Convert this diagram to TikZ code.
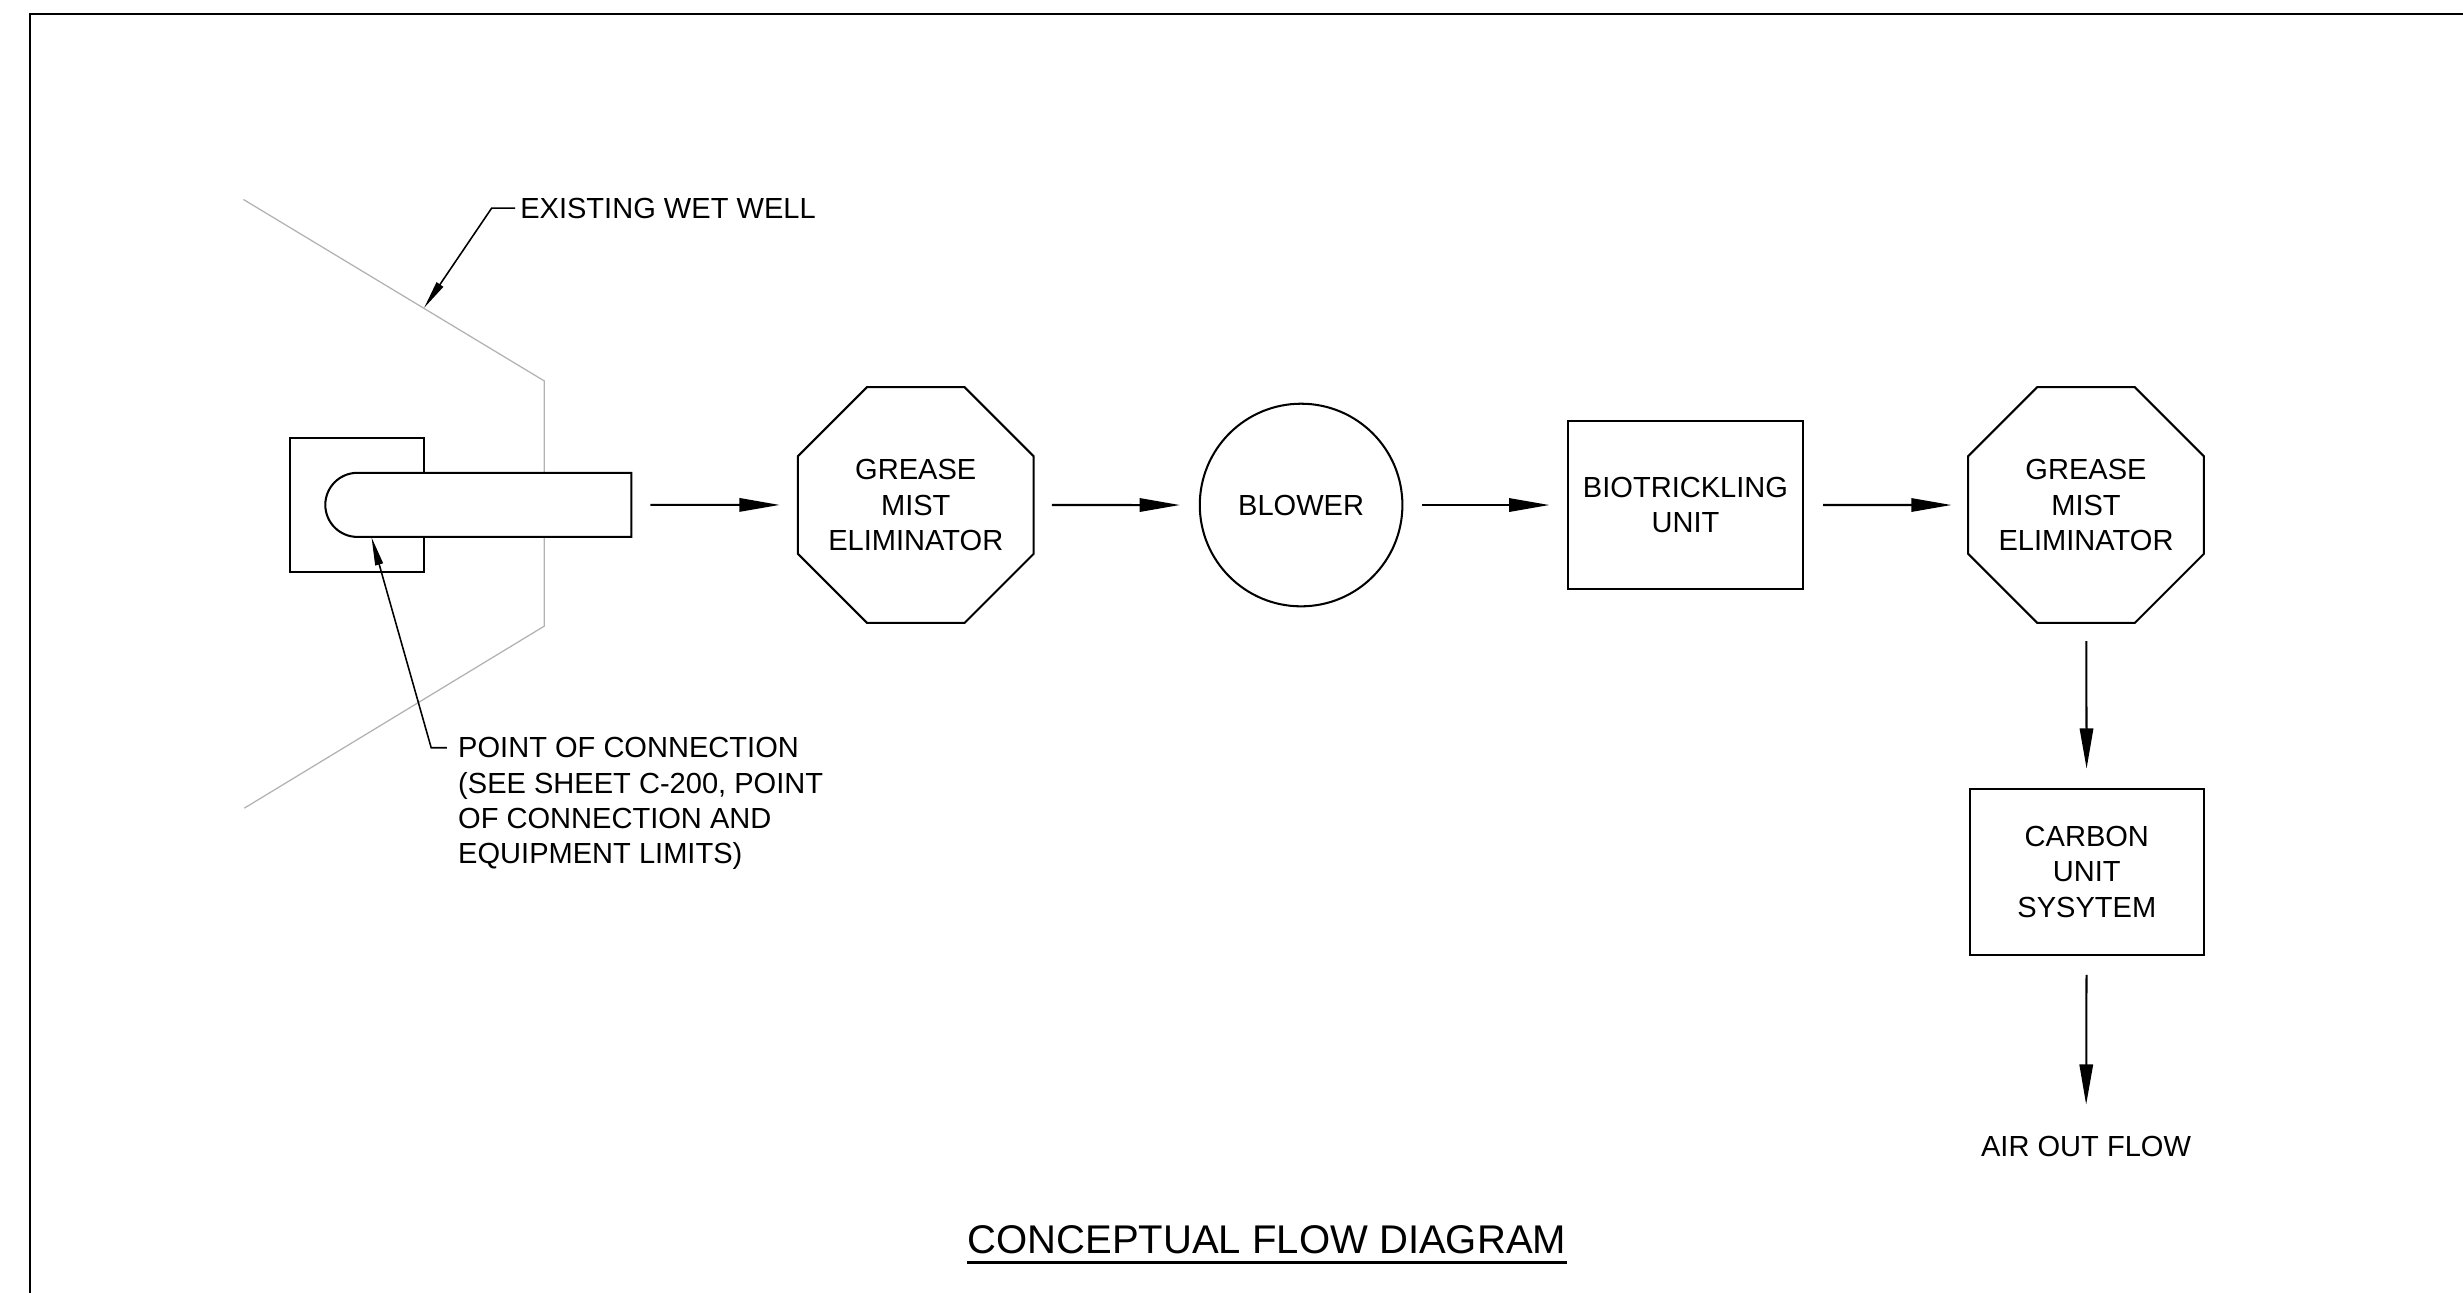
\documentclass[tikz,border=0pt]{standalone}
\usepackage{fontspec}
\setmainfont{Liberation Sans}
\usetikzlibrary{shapes.geometric,arrows.meta}
\begin{document}
\begin{tikzpicture}[x=1pt,y=-1pt,
    every node/.style={inner sep=0pt,font=\fontsize{18.5}{22.5}\selectfont},
    unit/.style={draw,line width=1.3pt,align=center},
    octa/.style={unit,regular polygon,regular polygon sides=8,inner sep=-20pt,minimum size=162.4pt},
    flow/.style={-{Triangle[length=25.6pt,width=8.5pt]},line width=1.3pt},
    leader/.style={-{Triangle[length=18pt,width=5pt]},line width=1pt},
    wall/.style={gray!60,line width=0.8pt}]
    \useasboundingbox (0,0) rectangle (1568,823);
    \draw[line width=1.3pt] (1568,9) -- (19,9) -- (19,823);

    \draw[wall] (155,127) -- (346.5,242.5) -- (346.5,398.6) -- (155.5,514.5);
    \draw[line width=1.3pt] (184.5,279) rectangle (270,364.3);
    \draw[line width=1.3pt,fill=white] (402,301) -- (227.5,301) arc[start angle=270,end angle=90,radius=20.4] -- (402,341.8) -- cycle;
    \coordinate (pipeend) at (402,321.4);
    \coordinate (wwtip) at (270,196);
    \coordinate (poctip) at (236.5,342);

    \node (gmeone) at (583,321.5) [octa] {GREASE\\MIST\\ELIMINATOR};
    \node (blower) at (828.3,321.5) [unit,circle,minimum size=129pt] {BLOWER};
    \node (btu) at (1073,321.5) [unit,minimum width=150pt,minimum height=107pt] {BIOTRICKLING\\UNIT};
    \node (gmetwo) at (1328,321.5) [octa] {GREASE\\MIST\\ELIMINATOR};
    \node (cus) at (1328.5,555) [unit,minimum width=149pt,minimum height=106pt] {CARBON\\UNIT\\SYSYTEM};
    \node (airout) at (1328,730) {AIR OUT FLOW};

    \node (wwlabel) at (331,132.5) [anchor=west] {EXISTING WET WELL};
    \node (poclabel) at (291.5,469.4) [anchor=north west,align=left] {POINT OF CONNECTION\\(SEE SHEET C-200, POINT\\OF CONNECTION AND\\EQUIPMENT LIMITS)};
    \node (title) at (806.5,789) [font=\fontsize{25.5}{30}\selectfont] {CONCEPTUAL FLOW DIAGRAM};

    \draw[flow,shorten <=12pt,shorten >=11pt] (pipeend) -- (gmeone);
    \draw[flow,shorten <=11pt,shorten >=12pt] (gmeone) -- (blower);
    \draw[flow,shorten <=12pt,shorten >=11pt] (blower) -- (btu);
    \draw[flow,shorten <=12pt,shorten >=10pt] (btu) -- (gmetwo);
    \draw[flow,shorten <=11pt,shorten >=12pt] (gmetwo) -- (cus);
    \draw[flow,shorten <=12pt,shorten >=20pt] (cus) -- (airout);

    \draw[leader] ([xshift=-3pt]wwlabel.west) -- ++(-15,0) -- (wwtip);
    \draw[leader] ([shift={(-7,6.6)}]poclabel.north west) -- ++(-10,0) -- (poctip);
    \draw[line width=1.5pt] ([yshift=-5.5pt]title.south west) -- ([yshift=-5.5pt]title.south east);
\end{tikzpicture}
\end{document}
